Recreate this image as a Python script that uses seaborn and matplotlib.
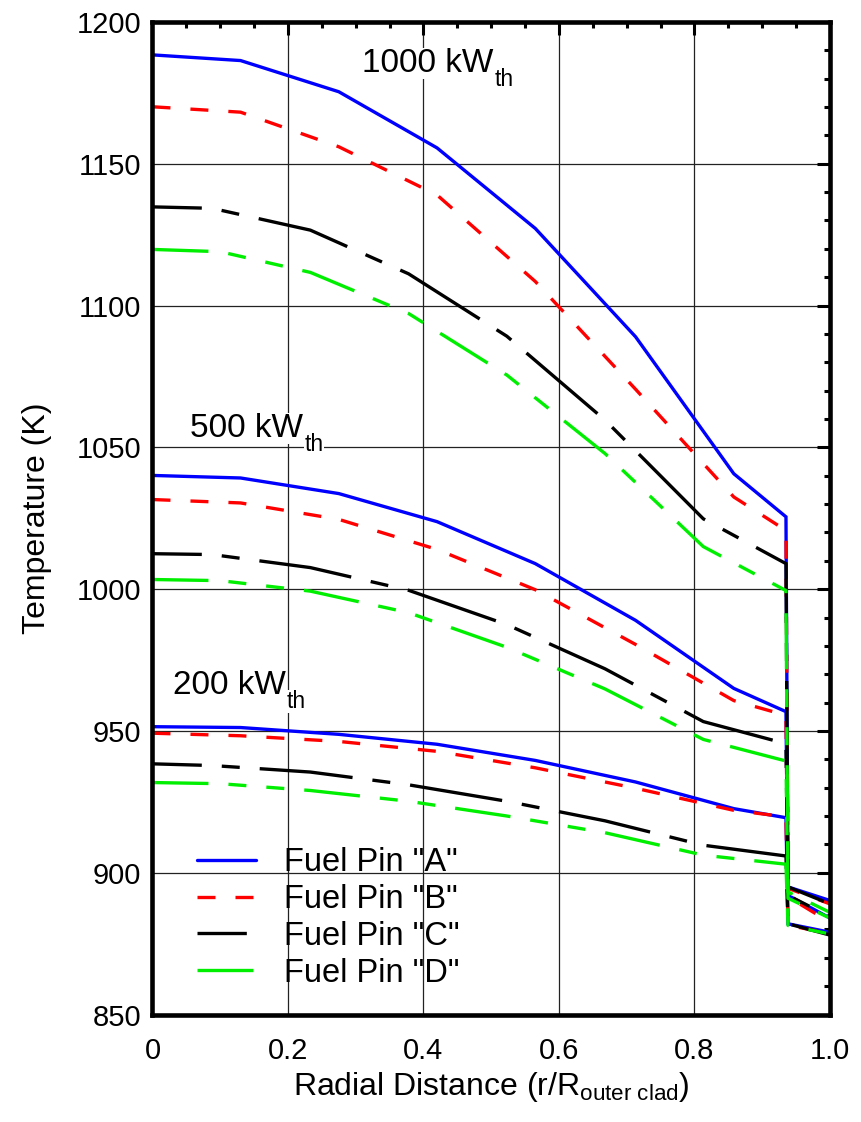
import matplotlib
matplotlib.use("Agg")
import matplotlib.pyplot as plt
import seaborn as sns
import pandas as pd
from matplotlib.lines import Line2D
from matplotlib.ticker import MultipleLocator

# ---------------- data ----------------
r_AB = [0, 0.13, 0.275, 0.42, 0.565, 0.713, 0.858, 0.935, 0.938, 1.0]
r_C = [0, 0.088, 0.233, 0.378, 0.523, 0.668, 0.813, 0.935, 0.938, 1.0]
r_D = [0, 0.10, 0.233, 0.378, 0.523, 0.668, 0.813, 0.935, 0.938, 1.0]

A_1000 = [1188.4, 1186.4, 1175.4, 1155.6, 1127.2, 1089.0, 1040.7, 1025.5, 895.0, 890.2]
A_500 = [1040.1, 1039.2, 1033.7, 1023.8, 1009.0, 989.0, 965.0, 956.8, 892.0, 884.0]
A_200 = [951.5, 951.2, 948.8, 945.3, 939.6, 932.0, 922.6, 919.4, 882.0, 879.0]

B_1000 = [1170.1, 1168.2, 1156.0, 1139.0, 1108.5, 1070.5, 1032.5, 1020.7, 894.5, 889.0]
B_500 = [1031.6, 1030.4, 1024.6, 1014.0, 999.8, 980.5, 960.7, 955.5, 891.5, 882.5]
B_200 = [949.2, 948.3, 946.3, 942.8, 937.0, 929.8, 922.0, 919.7, 881.5, 878.5]

C_1000 = [1134.8, 1134.3, 1126.6, 1111.2, 1089.2, 1059.6, 1024.8, 1009.0, 895.0, 889.0]
C_500 = [1012.5, 1012.2, 1007.6, 999.6, 987.5, 971.9, 953.3, 945.5, 892.0, 884.5]
C_200 = [938.4, 937.8, 935.5, 931.0, 925.2, 918.3, 909.7, 905.9, 882.0, 878.0]

D_1000 = [1119.8, 1119.0, 1111.7, 1097.2, 1075.5, 1047.8, 1015.0, 999.5, 893.2, 886.0]
D_500 = [1003.4, 1003.0, 999.3, 991.7, 979.5, 964.8, 947.0, 939.4, 891.0, 884.0]
D_200 = [931.8, 931.4, 929.0, 925.2, 920.0, 914.1, 906.2, 903.0, 881.4, 878.4]

pin_labels = ['Fuel Pin "A"', 'Fuel Pin "B"', 'Fuel Pin "C"', 'Fuel Pin "D"']
power_labels = ["1000 kW", "500 kW", "200 kW"]
power_sub = "th"
power_pos_x = [0.309, 0.056, 0.030]
power_pos_y = [1182.5, 1053.7, 963.1]

x_ticks = [0, 0.2, 0.4, 0.6, 0.8, 1.0]
x_ticklabels = ["0", "0.2", "0.4", "0.6", "0.8", "1.0"]
y_ticks = [850, 900, 950, 1000, 1050, 1100, 1150, 1200]

# ---------------- style ----------------
sns.set_style("white")
plt.rcParams["font.family"] = ["Liberation Sans", "DejaVu Sans"]
plt.rcParams["mathtext.fontset"] = "custom"
plt.rcParams["mathtext.rm"] = "Liberation Sans"
plt.rcParams["mathtext.it"] = "Liberation Sans:italic"
plt.rcParams["mathtext.bf"] = "Liberation Sans:bold"
plt.rcParams["text.color"] = "black"
plt.rcParams["axes.labelcolor"] = "black"
plt.rcParams["xtick.color"] = "black"
plt.rcParams["ytick.color"] = "black"

LW = 2.4
styles = {
    "A": dict(color="#0000ff", linestyle="-"),
    "B": dict(color="#ff0000", linestyle=(0, (5.4, 6.0))),
    "C": dict(color="#000000", linestyle=(13.2, (28.0, 6.0, 5.4, 6.0))),
    "D": dict(color="#00ee00", linestyle=(0, (16.8, 6.0, 5.4, 6.0, 5.4, 6.0))),
}

series = [
    ("A", r_AB, [A_1000, A_500, A_200]),
    ("B", r_AB, [B_1000, B_500, B_200]),
    ("C", r_C, [C_1000, C_500, C_200]),
    ("D", r_D, [D_1000, D_500, D_200]),
]

fig = plt.figure(figsize=(8.61, 11.22), dpi=100)
ax = fig.add_axes([0.1771, 0.0958, 0.7869, 0.8846])

for key, rr, groups in series:
    for vals in groups:
        df = pd.DataFrame({"r": rr, "T": vals})
        sns.lineplot(data=df, x="r", y="T", ax=ax, sort=False, estimator=None,
                     lw=LW, legend=False, solid_joinstyle="miter",
                     **styles[key])

ax.set_xlim(0, 1.0)
ax.set_ylim(850, 1200)
ax.set_xticks(x_ticks)
ax.set_xticklabels(x_ticklabels)
ax.set_yticks(y_ticks)
ax.xaxis.set_minor_locator(MultipleLocator(0.05))
ax.yaxis.set_minor_locator(MultipleLocator(10))

ax.grid(True, which="major", color="#222222", lw=0.9)
ax.set_axisbelow(True)

for sp in ax.spines.values():
    sp.set_linewidth(3.3)
    sp.set_color("black")

ax.tick_params(which="major", direction="in", length=9.5, width=2.2,
               top=True, right=True, labelsize=21, color="black")
ax.tick_params(axis="x", which="major", pad=16)
ax.tick_params(axis="y", which="major", pad=8)
ax.tick_params(which="minor", direction="in", length=4.5, width=2.2,
               top=True, right=True, color="black")

ax.set_xlabel(r"Radial Distance (r/R$_{\mathrm{outer\ clad}}$)", fontsize=23, labelpad=4)
ax.set_ylabel("Temperature (K)", fontsize=23, labelpad=18)

handles = [Line2D([], [], lw=LW, **styles[k]) for k in ["A", "B", "C", "D"]]
leg = ax.legend(handles, pin_labels, loc="lower left", bbox_to_anchor=(0.066, 0.026),
                frameon=False, fontsize=23.5, handlelength=1.8, handletextpad=0.85,
                labelspacing=0.18, borderpad=0, borderaxespad=0)

# power-level annotations with a lowered "th" subscript
main_texts = []
for lab, px, py in zip(power_labels, power_pos_x, power_pos_y):
    t = ax.text(px, py, lab, fontsize=24, ha="left", va="baseline",
                bbox=dict(facecolor="white", edgecolor="none", pad=0))
    main_texts.append((t, px, py))

fig.canvas.draw()
renderer = fig.canvas.get_renderer()
W, H = fig.bbox.width, fig.bbox.height
for t, px, py in main_texts:
    bb = t.get_window_extent(renderer)
    base = ax.transData.transform((px, py))[1]
    fig.text((bb.x1 + 1) / W, (base - 14) / H, power_sub, fontsize=16.5,
             ha="left", va="baseline",
             bbox=dict(facecolor="white", edgecolor="none", pad=0))

fig.savefig("out.png", dpi=100)
